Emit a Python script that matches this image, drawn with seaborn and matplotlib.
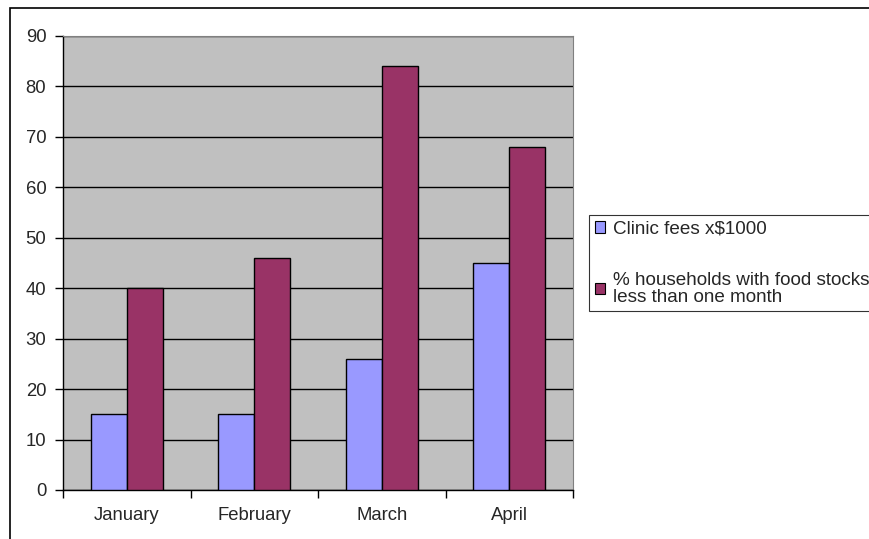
import matplotlib
matplotlib.use("Agg")
import matplotlib.pyplot as plt
from matplotlib.patches import Rectangle
import seaborn as sns
import pandas as pd

months = ["January", "February", "March", "April"]
clinic_fees = [15, 15, 26, 45]
food_stocks = [40, 46, 84, 68]
series_names = ["Clinic fees x$1000",
                "% households with food stocks\nless than one month"]
y_ticks = [0, 10, 20, 30, 40, 50, 60, 70, 80, 90]

df = pd.DataFrame({
    "month": months * 2,
    "value": clinic_fees + food_stocks,
    "series": [series_names[0]] * len(months) + [series_names[1]] * len(months),
})

sns.set_style("white")
plt.rcParams["font.family"] = ["Liberation Sans", "DejaVu Sans"]

fig = plt.figure(figsize=(8.69, 5.39), dpi=100)
ax = fig.add_axes([63 / 869, 49 / 539, 510 / 869, 454 / 539])

sns.barplot(data=df, x="month", y="value", hue="series", order=months,
            hue_order=series_names, palette=["#9999FF", "#993366"],
            width=0.565, gap=0, edgecolor="black", linewidth=1.0,
            saturation=1, errorbar=None, ax=ax, zorder=3)

ax.set_facecolor("#C0C0C0")
ax.set_xlim(-0.5, len(months) - 0.5)
ax.set_ylim(0, 90)
ax.set_yticks(y_ticks)
ax.yaxis.grid(True, color="black", linewidth=1.0, zorder=1)
ax.set_axisbelow(True)
ax.set_xlabel("")
ax.set_ylabel("")

# category boundaries get the tick marks, labels sit at centres
ax.set_xticks([i - 0.5 for i in range(len(months) + 1)], minor=True)
ax.tick_params(axis="x", which="major", length=0, pad=12.5, labelsize=13.3)
ax.tick_params(axis="x", which="minor", length=6, width=1, color="black",
               direction="out", bottom=True)
ax.tick_params(axis="y", length=6, width=1, color="black", direction="out",
               left=True, pad=6, labelsize=13.3)

for side in ["left", "bottom"]:
    ax.spines[side].set_color("black")
    ax.spines[side].set_linewidth(1.0)
for side in ["top", "right"]:
    ax.spines[side].set_color("#808080")
    ax.spines[side].set_linewidth(0.8)

handles, labels = ax.get_legend_handles_labels()
ax.get_legend().remove()
leg = fig.legend(handles, labels, loc="upper left",
                 bbox_to_anchor=(589 / 869, 1 - 215 / 539),
                 frameon=True, fancybox=False, fontsize=13.6,
                 handlelength=0.55, handleheight=0.55, handletextpad=0.4,
                 labelspacing=1.8, borderpad=0.3, borderaxespad=0)
leg.get_frame().set_edgecolor("black")
leg.get_frame().set_linewidth(0.8)
for t in leg.get_texts():
    t.set_linespacing(1.0)
for h in leg.legend_handles:
    h.set_linewidth(0.8)

# chart area border
fig.patches.append(Rectangle((10 / 869, -0.1), 1.2, 1 - 8 / 539 + 0.1,
                             transform=fig.transFigure, fill=False,
                             edgecolor="black", linewidth=1.2, zorder=0))

fig.savefig("out.png", dpi=100)
